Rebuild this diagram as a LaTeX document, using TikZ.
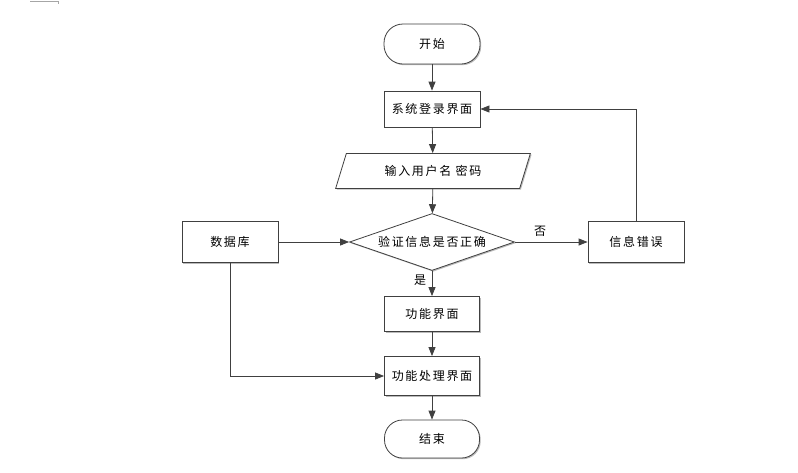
\documentclass[tikz,border=0pt]{standalone}
\usepackage{fontspec}
\setmainfont{Noto Sans CJK SC}[LetterSpace=14]
\usetikzlibrary{shapes.geometric,arrows.meta,shadows}
\definecolor{ln}{HTML}{404040}
\tikzset{
  base/.style={draw=ln, line width=0.8pt, fill=white, font=\fontsize{12}{14}\selectfont, inner sep=0pt,
    drop shadow={shadow xshift=1.2pt, shadow yshift=-1.2pt, fill=black!45, opacity=0.6}},
  procbox/.style={base, rectangle, minimum width=96pt, minimum height=37pt},
  termbox/.style={base, rectangle, rounded corners=19pt, minimum width=96pt, minimum height=40pt},
  iobox/.style={base, trapezium, trapezium left angle=62, trapezium right angle=118, minimum width=195pt, minimum height=35pt, trapezium stretches=true},
  decbox/.style={base, diamond, aspect=2.9, minimum width=165pt, minimum height=57pt},
  arr/.style={draw=ln, line width=0.8pt, -{Triangle[length=9pt,width=7pt]}},
  lbl/.style={font=\fontsize{12}{14}\selectfont, inner sep=0pt}
}
\begin{document}
\begin{tikzpicture}[x=1pt,y=-1pt]
\useasboundingbox (0,0) rectangle (798,472);
\fill[white] (0,0) rectangle (798,472);
\draw[gray!70, line width=0.8pt] (30,1) -- (58,1) -- (58,4);
\node[termbox] (start) at (432,44) {开始};
\node[procbox, minimum height=36pt] (login) at (432,109) {系统登录界面};
\node[iobox] (input) at (433,171) {输入用户名 密码};
\node[decbox] (check) at (432,242) {验证信息是否正确};
\node[procbox, minimum height=41pt] (db) at (230,242) {数据库};
\node[procbox, minimum height=41pt] (err) at (636,242) {信息错误};
\node[procbox, minimum width=95pt, minimum height=35pt] (func) at (432,314) {功能界面};
\node[procbox, minimum width=95pt, minimum height=39pt] (proc) at (432,376) {功能处理界面};
\node[termbox, minimum width=95pt, minimum height=38pt, rounded corners=18pt] (end) at (432,439) {结束};
\coordinate (c1) at (636,109);
\coordinate (c2) at (230,376);
\draw[arr] (start) -- (login);
\draw[arr] (login) -- (input);
\draw[arr] (input) -- (check);
\draw[arr] (check) -- (func);
\draw[arr] (func) -- (proc);
\draw[arr] (proc) -- (end);
\draw[arr] (db) -- (check);
\draw[arr] (check) -- (err);
\draw[arr] (err) -- (c1) -- (login);
\draw[arr] (db) -- (c2) -- (proc);
\node[lbl] (no) at (540,231) {否};
\node[lbl] (yes) at (420,280) {是};
\end{tikzpicture}
\end{document}
